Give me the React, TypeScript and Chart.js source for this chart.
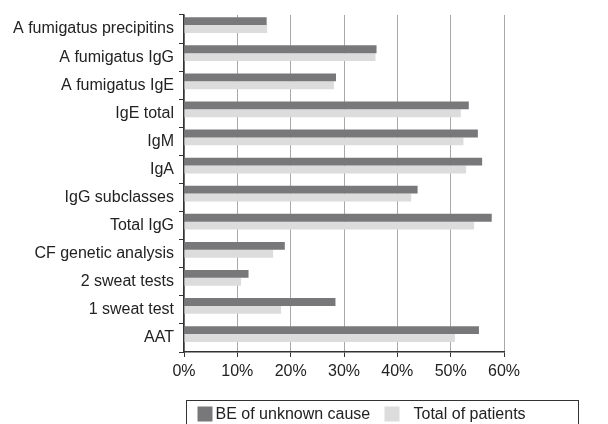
import React, { useEffect, useRef } from "react";
import { Chart, registerables } from "chart.js";

Chart.register(...registerables);

const categories = [
  "A fumigatus precipitins",
  "A fumigatus IgG",
  "A fumigatus IgE",
  "IgE total",
  "IgM",
  "IgA",
  "IgG subclasses",
  "Total IgG",
  "CF genetic analysis",
  "2 sweat tests",
  "1 sweat test",
  "AAT",
];

const beUnknown = [15.5, 36.1, 28.5, 53.4, 55.1, 55.9, 43.8, 57.7, 18.9, 12.1, 28.4, 55.3];
const totalPatients = [15.6, 35.9, 28.1, 51.9, 52.4, 52.9, 42.6, 54.4, 16.7, 10.7, 18.2, 50.8];

const xTicks = [0, 10, 20, 30, 40, 50, 60];

const FONT = "'Liberation Sans', Arial, sans-serif";

const boxLegend = {
  id: "boxLegend",
  afterDraw(chart: any) {
    const ctx = chart.ctx;
    const area = chart.chartArea;
    const left = area.left + 2.5;
    const top = 400.5;
    const w = 392;
    ctx.save();
    ctx.strokeStyle = "#333";
    ctx.lineWidth = 1;
    ctx.strokeRect(left, top, w, 40);
    ctx.font = "16px " + FONT;
    ctx.textBaseline = "middle";
    const ds = chart.data.datasets.slice(0, 2);
    const yMid = top + 13;
    const items = [
      { x: left + 11, tx: left + 29 },
      { x: left + 198, tx: left + 227 },
    ];
    ds.forEach((d: any, i: number) => {
      const it = items[i];
      ctx.fillStyle = d.backgroundColor;
      ctx.fillRect(it.x, yMid - 7, 15, 15);
      ctx.fillStyle = "#222";
      ctx.fillText(d.label, it.tx, yMid + 1);
    });
    ctx.restore();
  },
};

export default function App() {
  const ref = useRef<HTMLCanvasElement>(null);
  useEffect(() => {
    if (!ref.current) return;
    const chart = new Chart(ref.current, {
      type: "bar",
      data: {
        labels: categories,
        datasets: [
          {
            label: "BE of unknown cause",
            data: beUnknown,
            backgroundColor: "#78787b",
            categoryPercentage: 0.84,
            barPercentage: 1,
          },
          {
            label: "Total of patients",
            data: totalPatients,
            backgroundColor: "#dcdcdd",
            categoryPercentage: 0.84,
            barPercentage: 1,
          },
          {
            label: "",
            data: [],
            backgroundColor: "rgba(0,0,0,0)",
            categoryPercentage: 0.84,
            barPercentage: 1,
          },
        ],
      },
      options: {
        indexAxis: "y",
        animation: false,
        responsive: false,
        maintainAspectRatio: false,
        layout: { padding: { top: 15, right: 104, bottom: 44, left: 0 } },
        plugins: {
          legend: { display: false },
          tooltip: { enabled: false },
        },
        scales: {
          x: {
            min: 0,
            max: 60,
            afterBuildTicks(scale: any) {
              scale.ticks = xTicks.map((v) => ({ value: v }));
            },
            afterFit(scale: any) {
              scale.height = 28;
            },
            ticks: {
              callback: (v: any) => v + "%",
              color: "#222",
              font: { size: 16, family: FONT },
              padding: 5,
              maxRotation: 0,
            },
            grid: {
              color: "#a8a8a8",
              tickColor: "#333",
              tickLength: 5,
              lineWidth: 1,
            },
            border: { color: "#333", width: 1.5 },
          },
          y: {
            afterFit(scale: any) {
              scale.width = 184;
            },
            ticks: {
              color: "#222",
              font: { size: 16, family: FONT },
              padding: 5,
            },
            grid: {
              offset: true,
              drawOnChartArea: false,
              tickColor: "#333",
              tickLength: 5,
            },
            border: { color: "#333", width: 1.5 },
          },
        },
      },
      plugins: [boxLegend],
    } as any);
    return () => chart.destroy();
  }, []);
  return (
    <div style={{ position: "fixed", left: 0, top: 0, width: 608, height: 424, background: "#fff" }}>
      <canvas ref={ref} width={608} height={424} />
    </div>
  );
}
